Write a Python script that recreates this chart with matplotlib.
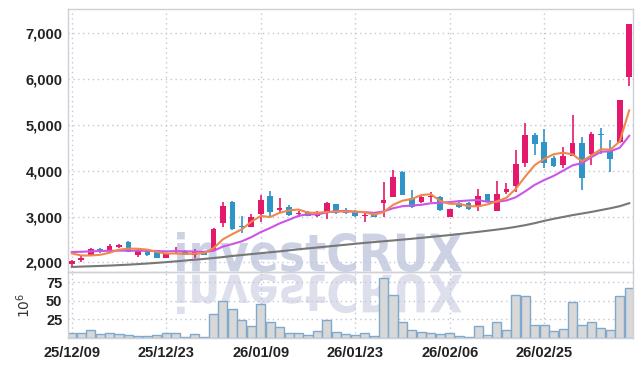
import matplotlib
matplotlib.use("Agg")
import matplotlib.pyplot as plt
from matplotlib.textpath import TextPath
from matplotlib.patches import PathPatch
from matplotlib.font_manager import FontProperties
from matplotlib.transforms import Affine2D, IdentityTransform
from matplotlib.ticker import FuncFormatter

# daily OHLC (60 trading days)
opens = [1960, 2045, 2170, 2300, 2240, 2335, 2440, 2170, 2260, 2225,
         2095, 2220, 2250, 2160, 2225, 2250, 2850, 3310, 2790, 2780,
         3050, 3450, 3140, 3200, 3045, 3100, 3015, 3070, 3270, 3150,
         3125, 3010, 3035, 3300, 3435, 3960, 3395, 3320, 3420, 3430,
         2995, 3285, 3300, 3200, 3490, 3125, 3540, 3670, 4165, 4780,
         4630, 4270, 4115, 4330, 4600, 4355, 4805, 4420, 4620, 6040]
highs = [2050, 2150, 2320, 2310, 2410, 2400, 2460, 2300, 2270, 2240,
         2200, 2340, 2260, 2300, 2240, 2760, 3310, 3340, 3010, 3060,
         3460, 3550, 3400, 3260, 3110, 3110, 3110, 3320, 3280, 3180,
         3140, 3100, 3050, 3760, 4010, 3990, 3580, 3450, 3540, 3450,
         3160, 3370, 3310, 3610, 3500, 3770, 3740, 4450, 5050, 4820,
         4900, 4330, 4510, 5210, 4730, 4850, 4930, 4660, 5530, 7200]
lows = [1920, 2000, 2130, 2200, 2200, 2320, 2220, 2120, 2140, 2090,
        2090, 2180, 2150, 2090, 2150, 2240, 2780, 2700, 2650, 2770,
        2890, 3000, 3070, 3020, 3000, 3005, 2980, 2940, 3050, 3060,
        3000, 2890, 2980, 3000, 3420, 3460, 3180, 3300, 3310, 3130,
        2990, 3180, 3150, 3130, 3340, 3120, 3490, 3545, 4090, 4350,
        4060, 4090, 4060, 4320, 3580, 4130, 4370, 3980, 4600, 5850]
closes = [2040, 2105, 2285, 2265, 2350, 2375, 2230, 2265, 2170, 2100,
          2190, 2245, 2165, 2250, 2160, 2720, 3225, 2730, 2770, 2980,
          3360, 3105, 3190, 3030, 3080, 3015, 3090, 3285, 3070, 3085,
          3010, 3030, 2995, 3360, 3870, 3470, 3215, 3430, 3445, 3140,
          3155, 3215, 3160, 3445, 3345, 3490, 3600, 4150, 4780, 4585,
          4165, 4105, 4325, 4600, 3830, 4800, 4785, 4260, 5530, 7200]
# volume in millions
volumes = [6.8, 6.8, 10.9, 5.9, 7.3, 5.9, 4.1, 2.7, 2.7, 4.1,
           6.8, 6.8, 1.4, 5.9, 1.4, 32.8, 50.5, 39.6, 24.6, 16.8,
           46.4, 21.9, 15.0, 6.8, 6.8, 4.1, 9.1, 23.7, 8.7, 5.9,
           4.1, 6.8, 2.7, 80.6, 57.8, 21.9, 10.9, 8.7, 7.3, 5.9,
           7.3, 2.7, 1.4, 16.4, 4.1, 21.9, 10.9, 57.8, 56.5, 17.8,
           17.8, 9.6, 12.3, 49.2, 17.8, 21.9, 13.7, 10.9, 56.5, 66.9]
# moving average lines as drawn
ma_short = [2195, 2150, 2150, 2165, 2210, 2276, 2301, 2297, 2278, 2228,
            2191, 2194, 2184, 2190, 2202, 2308, 2504, 2617, 2721, 2885,
            3013, 2989, 3081, 3133, 3153, 3084, 3081, 3100, 3108, 3109,
            3108, 3096, 3038, 3096, 3253, 3345, 3382, 3469, 3486, 3340,
            3277, 3277, 3223, 3223, 3264, 3331, 3408, 3606, 3873, 4121,
            4256, 4357, 4392, 4356, 4205, 4332, 4468, 4455, 4641, 5315]
ma_mid = [2225, 2232, 2240, 2248, 2252, 2255, 2255, 2254, 2252, 2248,
          2240, 2246, 2240, 2237, 2230, 2252, 2345, 2400, 2460, 2550,
          2660, 2750, 2850, 2930, 3015, 3050, 3045, 3090, 3115, 3125,
          3100, 3095, 3080, 3110, 3180, 3225, 3240, 3255, 3290, 3300,
          3315, 3335, 3350, 3360, 3320, 3320, 3350, 3420, 3550, 3690,
          3795, 3885, 4000, 4115, 4165, 4295, 4410, 4425, 4500, 4760]
ma_long = [1900, 1908, 1915, 1922, 1930, 1940, 1950, 1962, 1975, 1990,
           2005, 2022, 2040, 2058, 2075, 2095, 2115, 2140, 2160, 2180,
           2200, 2220, 2240, 2262, 2285, 2305, 2325, 2345, 2365, 2385,
           2405, 2425, 2442, 2460, 2478, 2496, 2515, 2535, 2555, 2575,
           2595, 2618, 2642, 2665, 2690, 2715, 2742, 2775, 2812, 2855,
           2905, 2950, 2990, 3030, 3065, 3100, 3140, 3180, 3225, 3290]
tick_pos = [0, 10, 20, 30, 40, 50]
tick_labels = ["25/12/09", "25/12/23", "26/01/09", "26/01/23", "26/02/06", "26/02/25"]

UP = "#e5196c"
DOWN = "#2f95c8"
GRID = "#c3c6d6"
FRAME = "#d0d0d8"
LABEL_FONT = ["Liberation Sans Narrow", "Liberation Sans", "DejaVu Sans"]

fig = plt.figure(figsize=(6.42, 3.66), dpi=100)
W, H = 642, 366
left, right = 68 / W, 633 / W
ax = fig.add_axes([left, 1 - 272 / H, right - left, 263 / H])
axv = fig.add_axes([left, 1 - 338 / H, right - left, 66 / H], sharex=ax)
for a in (ax, axv):
    a.set_facecolor("none")
    for s in a.spines.values():
        s.set_color(FRAME)
        s.set_linewidth(1.0)
    a.tick_params(length=0, labelsize=10.5, labelcolor="#222222")
    a.grid(True, color=GRID, linestyle=(0, (1, 2.5)), linewidth=1.0)
    a.set_axisbelow(True)

# watermark + reflection, in pixel coordinates
tp = TextPath((0, 0), "investCRUX", size=50,
              prop=FontProperties(family="DejaVu Sans", weight="bold"))
ext = tp.get_extents()
sx = (462 - 177) / ext.width
sy = 40 / ext.height
up_tr = Affine2D().translate(-ext.x0, -ext.y0).scale(sx, sy).translate(177, H - 272)
dn_tr = Affine2D().translate(-ext.x0, -ext.y0).scale(sx, -sy).translate(177, H - 274)
for tr, col in ((up_tr, "#ccd1e4"), (dn_tr, "#dde0ec")):
    p = PathPatch(tr.transform_path(tp), facecolor=col, edgecolor="none", zorder=-5)
    p.set_transform(IdentityTransform())
    fig.add_artist(p)

x = list(range(len(closes)))
body_lo = [min(o, c) for o, c in zip(opens, closes)]
body_h = [max(abs(c - o), 18) for o, c in zip(opens, closes)]
colors = [UP if c >= o else DOWN for o, c in zip(opens, closes)]

ax.vlines(x, lows, highs, colors=colors, linewidth=1.2, zorder=2)
ax.bar(x, body_h, bottom=body_lo, width=0.6, color=colors, zorder=3)

ax.plot(x, ma_long, color="#777777", linewidth=1.5, zorder=4)
ax.plot(x, ma_mid, color="#cc55e8", linewidth=1.5, zorder=4)
ax.plot(x, ma_short, color="#f0884a", linewidth=1.5, zorder=4)

ax.set_ylim(1790, 7525)
ax.set_yticks([2000, 3000, 4000, 5000, 6000, 7000])
ax.yaxis.set_major_formatter(FuncFormatter(lambda v, _: f"{int(v):,}"))
ax.tick_params(axis="x", labelbottom=False)
ax.tick_params(axis="y", pad=4)

axv.bar(x, volumes, width=0.96, color="#d8d8d8", edgecolor="#7fa9cc", linewidth=1.0, zorder=2)
axv.set_ylim(0, 89)
axv.set_yticks([25, 50, 75])
axv.tick_params(axis="y", pad=4)
axv.set_ylabel(r"$10^6$", fontsize=10, color="#333333")
axv.yaxis.set_label_coords(-0.062, 0.5)

axv.set_xlim(-0.4, 59.4)
axv.set_xticks(tick_pos)
axv.set_xticklabels(tick_labels)
axv.tick_params(axis="x", pad=6)

for lab in ax.get_yticklabels() + axv.get_yticklabels() + axv.get_xticklabels():
    lab.set_family(LABEL_FONT)
    lab.set_fontweight("bold")

fig.savefig("out.png", dpi=100)
